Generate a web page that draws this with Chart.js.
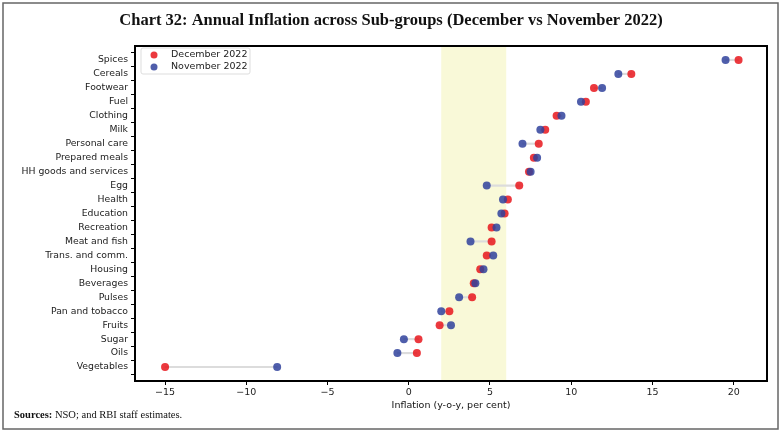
<!DOCTYPE html>
<html>
<head>
<meta charset="utf-8">
<script src="https://cdn.jsdelivr.net/npm/chart.js@4"></script>
<style>
  body { margin: 0; background: #fff; }
  #wrap { position: relative; width: 783px; height: 435px; }
</style>
</head>
<body>
<div id="wrap"><canvas id="cChart" width="783" height="435"></canvas></div>
<script>
// sub-groups, top to bottom
const categories = ["Spices","Cereals","Footwear","Fuel","Clothing","Milk","Personal care","Prepared meals",
  "HH goods and services","Egg","Health","Education","Recreation","Meat and fish","Trans. and comm.",
  "Housing","Beverages","Pulses","Pan and tobacco","Fruits","Sugar","Oils","Vegetables"];
const dec22 = [20.3,13.7,11.4,10.9,9.1,8.4,8.0,7.7,7.4,6.8,6.1,5.9,5.1,5.1,4.8,4.4,4.0,3.9,2.5,1.9,0.6,0.5,-15.0];
const nov22 = [19.5,12.9,11.9,10.6,9.4,8.1,7.0,7.9,7.5,4.8,5.8,5.7,5.4,3.8,5.2,4.6,4.1,3.1,2.0,2.6,-0.3,-0.7,-8.1];
const xTicks = [-15,-10,-5,0,5,10,15,20];
const band = [2, 6];

const redC = "rgba(232,22,28,0.85)";
const blueC = "rgba(48,66,156,0.85)";

// blank rows at both ends give the spacing at top and bottom of the plot
const labels = [""].concat(categories, [""]);
const pad = arr => [null].concat(arr, [null]);
const spans = pad(categories.map((c, i) => [Math.min(dec22[i], nov22[i]), Math.max(dec22[i], nov22[i])]));

const frame = {
  id: "frame",
  beforeDatasetsDraw(chart) {
    const {ctx, chartArea: a, scales: {x}} = chart;
    ctx.save();
    ctx.fillStyle = "#f9f9d8";
    const x0 = x.getPixelForValue(band[0]), x1 = x.getPixelForValue(band[1]);
    ctx.fillRect(x0, a.top, x1 - x0, a.bottom - a.top);
    ctx.restore();
  },
  afterDraw(chart) {
    const {ctx, chartArea: a} = chart;
    ctx.save();
    ctx.strokeStyle = "#000";
    ctx.lineWidth = 2;
    ctx.strokeRect(a.left, a.top, a.right - a.left, a.bottom - a.top);
    // outer frame
    ctx.strokeStyle = "#666";
    ctx.lineWidth = 1.5;
    ctx.strokeRect(3, 3, 775, 426);
    // title
    ctx.fillStyle = "#111";
    ctx.textAlign = "center";
    ctx.textBaseline = "middle";
    ctx.font = "bold 16.5px 'Liberation Serif', 'DejaVu Serif', serif";
    ctx.fillText("Chart 32: Annual Inflation across Sub-groups (December vs November 2022)", 391, 21);
    // source
    ctx.textAlign = "left";
    ctx.font = "bold 10.5px 'Liberation Serif', serif";
    ctx.fillText("Sources:", 14, 415);
    const w = ctx.measureText("Sources: ").width;
    ctx.font = "10.5px 'Liberation Serif', serif";
    ctx.fillText("NSO; and RBI staff estimates.", 14 + w, 415);
    // legend
    const lx = a.left + 6, ly = a.top + 2;
    ctx.strokeStyle = "#ddd";
    ctx.lineWidth = 1;
    ctx.fillStyle = "rgba(255,255,255,0.85)";
    ctx.beginPath();
    ctx.roundRect(lx, ly, 109, 26, 2);
    ctx.fill();
    ctx.stroke();
    const items = [["December 2022", redC], ["November 2022", blueC]];
    ctx.font = "9.5px 'DejaVu Sans', sans-serif";
    items.forEach((it, k) => {
      const cy = ly + 7 + k * 12;
      ctx.fillStyle = it[1];
      ctx.beginPath();
      ctx.arc(lx + 13, cy, 3.5, 0, Math.PI * 2);
      ctx.fill();
      ctx.fillStyle = "#222";
      ctx.fillText(it[0], lx + 30, cy);
    });
    ctx.restore();
  }
};

new Chart("cChart", {
  data: {
    labels: labels,
    datasets: [
      { type: "bar", data: spans, backgroundColor: "#dcdcdc", barThickness: 1.5, order: 3 },
      { type: "line", label: "December 2022", data: pad(dec22), showLine: false,
        pointRadius: 4, pointHoverRadius: 4, pointBackgroundColor: redC, pointBorderWidth: 0, order: 2 },
      { type: "line", label: "November 2022", data: pad(nov22), showLine: false,
        pointRadius: 4, pointHoverRadius: 4, pointBackgroundColor: blueC, pointBorderWidth: 0, order: 1 }
    ]
  },
  options: {
    indexAxis: "y",
    responsive: false,
    animation: false,
    layout: { padding: { top: 46, right: 16, bottom: 24, left: 0 } },
    plugins: { legend: { display: false }, tooltip: { enabled: false } },
    scales: {
      x: {
        type: "linear",
        min: -16.85,
        max: 22.05,
        afterBuildTicks: s => { s.ticks = xTicks.map(v => ({ value: v })); },
        afterFit: s => { s.height = 30; },
        grid: { drawOnChartArea: false, tickLength: 4, color: "#000" },
        border: { color: "#000", width: 2 },
        ticks: { font: { family: "DejaVu Sans", size: 9.5 }, color: "#222", padding: 2,
          callback: v => String(v).replace("-", "\u2212") },
        title: { display: true, text: "Inflation (y-o-y, per cent)", font: { family: "DejaVu Sans", size: 9.5 },
          color: "#111", padding: { top: 0, bottom: 0 } }
      },
      y: {
        type: "category",
        offset: false,
        afterBuildTicks: s => { s.ticks = s.ticks.filter(t => labels[t.value] !== ""); },
        afterFit: s => { s.width = 135; },
        grid: { drawOnChartArea: false, tickLength: 4, color: "#000" },
        border: { color: "#000", width: 2 },
        ticks: { font: { family: "DejaVu Sans", size: 9.3 }, color: "#222", padding: 3, autoSkip: false }
      }
    }
  },
  plugins: [frame]
});
</script>
</body>
</html>
